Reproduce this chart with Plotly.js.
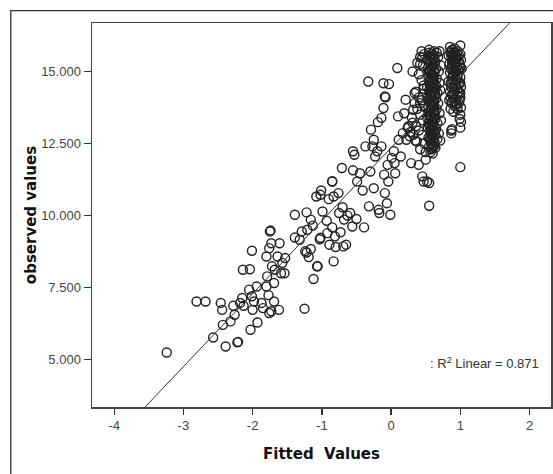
<!DOCTYPE html>
<html>
<head>
<meta charset="utf-8">
<script src="https://cdn.plot.ly/plotly-3.0.1.min.js"></script>
<style>html,body{margin:0;padding:0;background:#fff;}#chart{width:553px;height:474px;}</style>
</head>
<body>
<div id="chart"></div>
<script>
// ---- data (fitted values vs observed values) ----
const fittedLow = [-3.24,-2.81,-2.68,-2.57,-2.46,-2.44,-2.43,-2.39,-2.32,-2.28,-2.26,-2.22,-2.21,-2.18,-2.15,-2.13,-2.14,-2.04,-2.01,-2.05,-2.01,-2.00,-2.03,-1.93,-1.94,-1.98,-1.87,-1.85,-1.80,-1.79,-1.80,-1.76,-1.75,-1.74,-1.73,-1.77,-1.76,-1.73,-1.69,-1.69,-1.68,-1.64,-1.61,-1.62,-1.59,-1.54,-1.57,-1.53,-1.72];
const observedLow = [5.25,7.02,7.02,5.77,6.97,6.73,6.21,5.46,6.33,6.87,6.56,5.60,5.62,6.97,7.14,6.87,8.12,8.14,8.78,7.43,7.20,6.73,6.04,6.29,7.54,7.02,6.97,6.79,7.54,7.89,8.58,8.87,9.45,9.48,9.04,7.24,6.62,6.68,7.02,7.66,8.12,8.58,9.04,6.73,8.00,8.00,8.36,8.53,8.24];

const fittedMid = [-1.39,-1.39,-1.32,-1.25,-1.22,-1.21,-1.22,-1.19,-1.16,-1.16,-1.13,-1.12,-1.06,-1.08,-1.03,-1.01,-0.99,-0.93,-0.90,-0.92,-0.89,-0.85,-0.85,-0.83,-0.81,-0.83,-0.80,-0.76,-0.75,-0.73,-0.71,-0.70,-0.69,-0.65,-0.68,-0.63,-0.59,-0.55,-0.53,-0.55,-0.50,-0.56,-0.49,-0.45,-0.41,-0.39,-0.37,-0.33,-0.30,-0.32,-0.29,-0.27,-0.25,-0.25,-0.23,-0.20,-0.19,-0.18,-0.17,-0.14,-0.14,-0.11,-0.09,-0.08,-0.11,-0.10,-0.09,-0.06,-0.05,-0.03,-0.01,-0.04,0.01,0.04,0.05,0.09,0.06,0.10,0.11,0.14,0.17,0.19,0.21,0.22,0.24,0.27,0.29,0.31,0.31,0.32,0.34,0.37,0.40,0.42,0.42,0.45,0.47,0.50,0.52,0.55,0.55,0.47,0.45,-1.29,-1.24,-1.07,-1.02,-1.02,-0.85];
const observedMid = [10.03,9.24,9.16,6.77,10.11,9.51,8.72,8.56,8.84,9.86,9.65,7.80,8.24,10.66,9.18,10.87,10.14,9.82,10.57,9.39,8.99,11.18,9.59,10.66,9.28,8.41,8.91,10.78,10.09,9.42,11.65,10.29,8.93,8.99,9.86,10.00,10.09,12.23,12.11,11.57,9.88,9.62,11.18,11.47,10.87,9.59,12.40,14.65,11.53,10.32,12.98,12.40,12.63,10.95,12.05,12.23,13.24,10.20,10.09,12.40,13.39,14.59,14.13,14.10,13.73,11.42,10.78,10.43,11.76,14.56,10.03,11.18,12.00,12.23,11.82,15.12,11.47,13.44,12.63,12.05,12.86,13.55,14.02,12.63,13.04,12.75,11.82,15.00,13.22,13.67,14.25,12.57,11.76,15.26,13.90,11.36,11.18,11.94,11.18,11.13,10.34,14.51,15.49,9.45,8.76,8.24,9.23,10.72,11.19];

const fittedBand = [0.38,0.42,0.44,0.48,0.46,0.40,0.44,0.47,0.36,0.40,0.44,0.48,0.34,0.38,0.42,0.46,0.30,0.36,0.40,0.45,0.32,0.28,0.25,0.48,0.42,0.50,0.35];
const observedBand = [15.30,15.50,15.70,15.60,15.20,14.90,14.70,14.40,14.30,14.10,14.00,13.80,13.90,13.70,13.50,13.30,13.40,13.10,12.95,12.80,12.80,12.90,13.10,12.50,12.30,12.20,12.60];

const fittedColA = [0.55,0.58,0.62,0.66,0.70,0.52,0.57,0.60,0.64,0.68,0.53,0.56,0.59,0.62,0.65,0.69,0.72,0.54,0.57,0.60,0.63,0.66,0.70,0.52,0.55,0.58,0.61,0.64,0.67,0.71,0.53,0.56,0.59,0.62,0.65,0.68,0.54,0.57,0.60,0.63,0.66,0.70,0.52,0.55,0.58,0.61,0.64,0.67,0.72,0.53,0.56,0.59,0.62,0.65,0.69,0.54,0.57,0.60,0.63,0.67,0.71,0.55,0.58,0.61,0.64,0.57,0.60,0.56,0.60,0.58,0.56,0.60,0.58,0.57,0.61,0.59,0.57,0.61,0.58,0.62,0.60,0.56,0.63,0.65,0.62,0.58,
  0.55,0.57,0.59,0.61,0.63,0.55,0.57,0.59,0.61,0.63,0.55,0.57,0.59,0.61,0.63,0.55,0.57,0.59,0.61,0.63,0.55,0.57,0.59,0.61,0.63,0.55,0.57,0.59,0.61,0.63,0.56,0.58,0.60,0.62,0.56,0.58,0.60,0.62,0.56,0.58,0.60,0.62,0.56,0.58,0.60,0.62,0.54,0.64,0.54,0.64];
const observedColA = [15.75,15.60,15.70,15.65,15.70,15.40,15.30,15.45,15.35,15.50,15.10,15.00,15.15,14.95,15.10,15.00,15.20,14.80,14.70,14.85,14.60,14.75,14.60,14.45,14.35,14.50,14.30,14.40,14.25,14.35,14.10,14.00,14.15,13.95,14.05,13.90,13.75,13.65,13.80,13.60,13.70,13.55,13.40,13.30,13.45,13.25,13.35,13.20,13.30,13.05,12.95,13.10,12.90,13.00,12.85,12.70,12.60,12.75,12.55,12.65,12.60,12.40,12.30,12.45,12.35,12.20,12.15,15.55,15.20,14.90,14.55,14.60,14.20,13.85,13.55,13.20,12.85,12.60,13.95,14.20,13.05,13.50,15.55,14.50,13.80,12.50,
  15.65,15.50,15.60,15.40,15.30,15.05,14.90,15.25,14.75,15.00,14.60,14.45,14.30,14.65,14.40,14.05,13.95,14.20,13.85,14.10,13.60,13.45,13.70,13.35,13.50,13.15,13.00,12.80,13.20,12.95,12.65,12.50,12.90,12.40,15.35,15.10,14.65,14.85,14.25,13.75,14.00,13.40,13.10,12.70,12.35,13.65,15.00,14.20,13.20,12.80];

const fittedColB = [0.85,0.88,0.92,0.96,1.00,0.83,0.87,0.90,0.94,0.98,1.01,0.84,0.88,0.91,0.95,0.99,1.02,0.85,0.89,0.92,0.96,1.00,0.83,0.87,0.90,0.94,0.98,1.01,0.85,0.88,0.92,0.96,1.00,0.84,0.87,0.91,0.95,0.99,1.01,0.86,0.90,1.00,1.01,1.00,0.99,0.87,0.87,0.88,1.00,0.86,0.93,0.89,0.93,0.87,0.91,0.97,0.89,
  0.86,0.88,0.90,0.92,0.94,0.96,0.98,0.86,0.88,0.90,0.92,0.94,0.96,0.98,0.86,0.88,0.90,0.92,0.94,0.96,0.98,0.86,0.88,0.90,0.92,0.94,0.96,0.98,1.00,1.00,1.00,1.00];
const observedColB = [15.85,15.75,15.80,15.70,15.90,15.55,15.50,15.60,15.45,15.55,15.40,15.25,15.20,15.30,15.15,15.25,15.10,14.95,14.85,15.00,14.90,14.80,14.65,14.55,14.70,14.50,14.60,14.45,14.30,14.20,14.35,14.15,14.25,14.00,13.90,13.95,13.85,14.00,13.75,13.70,13.60,13.50,13.25,13.05,13.35,12.95,12.85,13.00,11.68,15.65,15.55,15.05,14.75,14.45,14.10,15.05,15.40,
  15.70,15.60,15.45,15.65,15.30,15.50,15.35,15.10,15.30,14.90,15.20,15.00,14.80,15.05,14.60,14.75,14.45,14.55,14.70,14.40,14.25,14.10,13.95,14.20,13.80,14.05,13.70,13.90,15.60,15.15,14.60,14.10];

const fitIntercept = 12.35;
const fitSlope = 2.53;
const fitLabel = ': R<sup>2</sup> Linear = 0.871';

const xRange = [-4.32, 2.31];
const yRange = [3.36, 16.68];
const xTicks = [-4, -3, -2, -1, 0, 1, 2];
const yTicks = [5, 7.5, 10, 12.5, 15];
const yTickText = ['5.000', '7.500', '10.000', '12.500', '15.000'];
const xTitle = 'Fitted  Values';
const yTitle = 'observed values';

// ---- build ----
const xs = [].concat(fittedLow, fittedMid, fittedBand, fittedColA, fittedColB);
const ys = [].concat(observedLow, observedMid, observedBand, observedColA, observedColB);
const lineX = [xRange[0], xRange[1]];
const lineY = lineX.map(v => fitIntercept + fitSlope * v);

const traces = [
  {
    x: xs, y: ys, type: 'scatter', mode: 'markers',
    marker: {symbol: 'circle-open', size: 9, color: '#222', line: {width: 1.4, color: '#222'}},
    hoverinfo: 'x+y', showlegend: false
  },
  {
    x: lineX, y: lineY, type: 'scatter', mode: 'lines',
    line: {color: '#333', width: 1}, hoverinfo: 'skip', showlegend: false
  }
];

const tickFont = {family: 'Liberation Sans, Arial, sans-serif', size: 13, color: '#444'};
const titleFont = {family: 'DejaVu Sans, Verdana, sans-serif', size: 15, color: '#111', weight: 'bold'};

const layout = {
  width: 553, height: 474,
  margin: {l: 92, r: 2, t: 23, b: 67},
  paper_bgcolor: '#fff', plot_bgcolor: '#fff',
  showlegend: false,
  xaxis: {
    range: xRange, tickvals: xTicks, ticktext: xTicks.map(String),
    ticks: 'outside', ticklen: 6, tickwidth: 1.3, tickcolor: '#333',
    showgrid: false, zeroline: false,
    showline: true, linecolor: '#444', linewidth: 1.5, mirror: true,
    tickfont: tickFont,
    title: {text: '<b>' + xTitle + '</b>', font: titleFont, standoff: 16}
  },
  yaxis: {
    range: yRange, tickvals: yTicks, ticktext: yTickText,
    ticks: 'outside', ticklen: 7, tickwidth: 1.3, tickcolor: '#333',
    showgrid: false, zeroline: false,
    showline: true, linecolor: '#444', linewidth: 1.5, mirror: true,
    tickfont: tickFont,
    title: {text: '<b>' + yTitle + '</b>', font: titleFont, standoff: 1}
  },
  annotations: [{
    text: fitLabel, xref: 'paper', yref: 'paper', x: 0.978, y: 0.1154,
    xanchor: 'right', yanchor: 'middle', showarrow: false,
    font: {family: 'Liberation Sans, Arial, sans-serif', size: 13, color: '#333'}
  }],
  shapes: [{
    type: 'rect', xref: 'paper', yref: 'paper',
    x0: -0.177, x1: 1.05, y0: -0.25, y1: 1.032,
    line: {color: '#333', width: 1.3}, fillcolor: 'rgba(0,0,0,0)', layer: 'below'
  }]
};

Plotly.newPlot('chart', traces, layout, {displayModeBar: false, staticPlot: true});
</script>
</body>
</html>
